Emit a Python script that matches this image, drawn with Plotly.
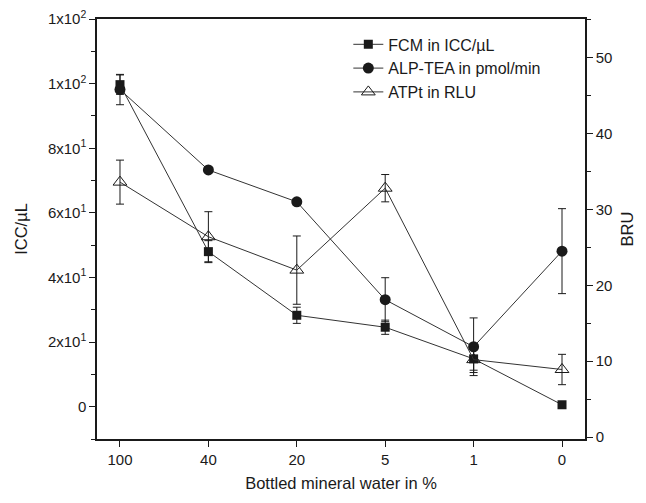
import plotly.graph_objects as go

# Data
water_pct = ["100", "40", "20", "5", "1", "0"]

fcm_icc = [99.7, 48.0, 28.3, 24.6, 14.8, 0.6]
fcm_err = [3.0, 3.4, 2.5, 2.2, 3.5, 0.5]

alp_bru = [45.8, 35.2, 31.0, 18.1, 11.9, 24.5]
alp_err = [2.0, 0.3, 0.4, 2.9, 3.8, 5.6]

atp_bru = [33.6, 26.4, 22.0, 32.8, 10.2, 8.9]
atp_err = [2.9, 3.3, 4.5, 1.8, 1.7, 2.0]

left_ticks = [0, 20, 40, 60, 80, 100, 120]
left_labels = ["0", "2x10<sup>1</sup>", "4x10<sup>1</sup>", "6x10<sup>1</sup>",
               "8x10<sup>1</sup>", "1x10<sup>2</sup>", "1x10<sup>2</sup>"]

xpos = list(range(len(water_pct)))
ink = "#1a1a1a"
line_col = "#333333"
fam = "Liberation Sans, Arial, sans-serif"
title_font = dict(family=fam, size=16.5, color=ink)


def err(vals):
    return dict(type="data", array=vals, visible=True, color=ink, thickness=1, width=4)


fig = go.Figure()
fig.add_trace(go.Scatter(
    x=xpos, y=fcm_icc, name="FCM in ICC/µL", mode="lines+markers",
    line=dict(color=line_col, width=1),
    marker=dict(symbol="square", size=9, color=ink),
    error_y=err(fcm_err), yaxis="y"))
fig.add_trace(go.Scatter(
    x=xpos, y=alp_bru, name="ALP-TEA in pmol/min", mode="lines+markers",
    line=dict(color=line_col, width=1),
    marker=dict(symbol="circle", size=11, color=ink),
    error_y=err(alp_err), yaxis="y2"))
fig.add_trace(go.Scatter(
    x=xpos, y=atp_bru, name="ATPt in RLU", mode="lines+markers",
    line=dict(color=line_col, width=1),
    marker=dict(symbol="triangle-up-open", size=12, color=ink, line=dict(width=1)),
    error_y=err(atp_err), yaxis="y2"))

# page body adds an 8px offset, so margins are trimmed accordingly
fig.update_layout(
    width=646, height=503,
    margin=dict(l=89, r=69, t=11, b=72),
    paper_bgcolor="white", plot_bgcolor="white",
    font=dict(family=fam, size=15, color=ink),
    showlegend=True,
    legend=dict(x=0.515, y=0.98, xanchor="left", yanchor="top",
                bgcolor="rgba(0,0,0,0)", font=dict(size=16), tracegroupgap=0,
                itemwidth=30),
    xaxis=dict(
        range=[-0.26, 5.26], tickvals=xpos, ticktext=water_pct,
        showgrid=False, zeroline=False, automargin=False,
        showline=True, linecolor=ink, linewidth=1.5, mirror=True,
        ticks="outside", ticklen=6, tickcolor=ink,
        title=dict(text="Bottled mineral water in %", standoff=11, font=title_font),
    ),
    yaxis=dict(
        range=[-10, 120.02], tickvals=left_ticks, ticktext=left_labels,
        ticklabeloverflow="allow",
        showgrid=False, zeroline=False, automargin=False,
        showline=True, linecolor=ink, linewidth=1.5,
        ticks="outside", ticklen=6, tickcolor=ink,
        minor=dict(dtick=10, tick0=0, ticks="outside", ticklen=4, tickcolor=ink),
        title=dict(text="ICC/µL", standoff=16, font=title_font),
    ),
    yaxis2=dict(
        range=[-0.26, 55.1], overlaying="y", side="right",
        tickvals=[0, 10, 20, 30, 40, 50],
        showgrid=False, zeroline=False, automargin=False,
        showline=True, linecolor=ink, linewidth=1.5,
        ticks="outside", ticklen=6, tickcolor=ink,
        minor=dict(dtick=5, tick0=0, ticks="outside", ticklen=4, tickcolor=ink),
        title=dict(text="BRU", standoff=10, font=title_font),
    ),
)

fig.write_html("out.html")
